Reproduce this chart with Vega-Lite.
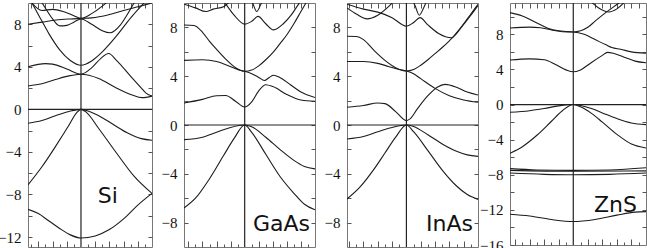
{
"$schema":"https://vega.github.io/schema/vega-lite/v6.json",
"padding":{"left":-3,"top":1,"right":0,"bottom":0},
"config":{"view":{"stroke":"#777","strokeWidth":1},"axis":{"domain":false,"grid":false,"title":null,"tickColor":"#555","tickWidth":1,"labelFont":"Liberation Serif","labelFontSize":15,"labelColor":"#111"}},
"datasets":{
"bands":[
{"p":"si","b":"v1","k":-0.746,"e":-9.4},{"p":"si","b":"v1","k":-0.6,"e":-9.8},{"p":"si","b":"v1","k":-0.45,"e":-10.5},{"p":"si","b":"v1","k":-0.3,"e":-11.2},{"p":"si","b":"v1","k":-0.15,"e":-11.8},{"p":"si","b":"v1","k":0,"e":-12.1},{"p":"si","b":"v1","k":0.2,"e":-11.9},{"p":"si","b":"v1","k":0.4,"e":-11.3},{"p":"si","b":"v1","k":0.6,"e":-10.3},{"p":"si","b":"v1","k":0.8,"e":-9.0},{"p":"si","b":"v1","k":1.0,"e":-7.9},
{"p":"si","b":"v2","k":-0.746,"e":-7.1},{"p":"si","b":"v2","k":-0.55,"e":-5.4},{"p":"si","b":"v2","k":-0.36,"e":-3.5},{"p":"si","b":"v2","k":-0.17,"e":-1.5},{"p":"si","b":"v2","k":-0.06,"e":-0.3},{"p":"si","b":"v2","k":0,"e":0},{"p":"si","b":"v2","k":0.08,"e":-0.3},{"p":"si","b":"v2","k":0.25,"e":-1.8},{"p":"si","b":"v2","k":0.5,"e":-4.1},{"p":"si","b":"v2","k":0.75,"e":-6.3},{"p":"si","b":"v2","k":1.0,"e":-7.9},
{"p":"si","b":"v3","k":-0.746,"e":-1.3},{"p":"si","b":"v3","k":-0.55,"e":-1.05},{"p":"si","b":"v3","k":-0.36,"e":-0.6},{"p":"si","b":"v3","k":-0.17,"e":-0.2},{"p":"si","b":"v3","k":0,"e":0},{"p":"si","b":"v3","k":0.1,"e":-0.15},{"p":"si","b":"v3","k":0.25,"e":-0.6},{"p":"si","b":"v3","k":0.45,"e":-1.4},{"p":"si","b":"v3","k":0.65,"e":-2.2},{"p":"si","b":"v3","k":0.85,"e":-2.75},{"p":"si","b":"v3","k":1.0,"e":-2.9},
{"p":"si","b":"c1","k":-0.746,"e":2.2},{"p":"si","b":"c1","k":-0.55,"e":2.4},{"p":"si","b":"c1","k":-0.36,"e":2.8},{"p":"si","b":"c1","k":-0.17,"e":3.15},{"p":"si","b":"c1","k":0,"e":3.3},{"p":"si","b":"c1","k":0.25,"e":2.9},{"p":"si","b":"c1","k":0.48,"e":2.07},{"p":"si","b":"c1","k":0.72,"e":1.35},{"p":"si","b":"c1","k":0.86,"e":1.1},{"p":"si","b":"c1","k":1.0,"e":1.25},
{"p":"si","b":"c2","k":-0.746,"e":4.0},{"p":"si","b":"c2","k":-0.5,"e":4.3},{"p":"si","b":"c2","k":-0.4,"e":4.25},{"p":"si","b":"c2","k":-0.2,"e":3.8},{"p":"si","b":"c2","k":0,"e":3.3},{"p":"si","b":"c2","k":0.15,"e":3.9},{"p":"si","b":"c2","k":0.28,"e":4.8},{"p":"si","b":"c2","k":0.39,"e":5.25},{"p":"si","b":"c2","k":0.5,"e":4.6},{"p":"si","b":"c2","k":0.7,"e":3.1},{"p":"si","b":"c2","k":0.85,"e":2.0},{"p":"si","b":"c2","k":0.92,"e":1.5},{"p":"si","b":"c2","k":1.0,"e":1.25},
{"p":"si","b":"c3","k":-0.746,"e":10.7},{"p":"si","b":"c3","k":-0.69,"e":10.0},{"p":"si","b":"c3","k":-0.55,"e":8.3},{"p":"si","b":"c3","k":-0.45,"e":7.1},{"p":"si","b":"c3","k":-0.3,"e":5.6},{"p":"si","b":"c3","k":-0.15,"e":4.6},{"p":"si","b":"c3","k":0,"e":4.15},{"p":"si","b":"c3","k":0.15,"e":4.55},{"p":"si","b":"c3","k":0.3,"e":5.4},{"p":"si","b":"c3","k":0.5,"e":6.9},{"p":"si","b":"c3","k":0.7,"e":8.6},{"p":"si","b":"c3","k":0.9,"e":10.1},
{"p":"si","b":"c4","k":-0.746,"e":8.0},{"p":"si","b":"c4","k":-0.55,"e":8.2},{"p":"si","b":"c4","k":-0.35,"e":8.4},{"p":"si","b":"c4","k":-0.15,"e":8.5},{"p":"si","b":"c4","k":0,"e":8.55},{"p":"si","b":"c4","k":0.15,"e":8.6},{"p":"si","b":"c4","k":0.39,"e":8.9},{"p":"si","b":"c4","k":0.6,"e":9.3},{"p":"si","b":"c4","k":0.8,"e":9.65},{"p":"si","b":"c4","k":1.0,"e":10.0},
{"p":"si","b":"c5","k":-0.6,"e":10.6},{"p":"si","b":"c5","k":-0.5,"e":9.5},{"p":"si","b":"c5","k":-0.4,"e":8.5},{"p":"si","b":"c5","k":-0.3,"e":7.85},{"p":"si","b":"c5","k":-0.2,"e":7.9},{"p":"si","b":"c5","k":-0.1,"e":8.2},{"p":"si","b":"c5","k":0,"e":8.5},{"p":"si","b":"c5","k":0.15,"e":8.0},{"p":"si","b":"c5","k":0.3,"e":7.4},{"p":"si","b":"c5","k":0.41,"e":7.2},{"p":"si","b":"c5","k":0.55,"e":7.9},{"p":"si","b":"c5","k":0.65,"e":8.9},{"p":"si","b":"c5","k":0.72,"e":9.7},{"p":"si","b":"c5","k":0.8,"e":10.6},
{"p":"si","b":"c6","k":-0.746,"e":10.5},{"p":"si","b":"c6","k":-0.69,"e":10.0},{"p":"si","b":"c6","k":-0.55,"e":9.3},{"p":"si","b":"c6","k":-0.4,"e":9.4},{"p":"si","b":"c6","k":-0.25,"e":9.2},{"p":"si","b":"c6","k":-0.1,"e":8.8},{"p":"si","b":"c6","k":0,"e":8.55},{"p":"si","b":"c6","k":0.15,"e":9.0},{"p":"si","b":"c6","k":0.3,"e":9.7},{"p":"si","b":"c6","k":0.4,"e":10.3},

{"p":"gaas","b":"v1","k":-0.863,"e":-6.8},{"p":"gaas","b":"v1","k":-0.7,"e":-6.0},{"p":"gaas","b":"v1","k":-0.5,"e":-4.4},{"p":"gaas","b":"v1","k":-0.3,"e":-2.5},{"p":"gaas","b":"v1","k":-0.15,"e":-1.1},{"p":"gaas","b":"v1","k":0,"e":0},{"p":"gaas","b":"v1","k":0.1,"e":-0.6},{"p":"gaas","b":"v1","k":0.3,"e":-2.4},{"p":"gaas","b":"v1","k":0.5,"e":-4.2},{"p":"gaas","b":"v1","k":0.7,"e":-5.6},{"p":"gaas","b":"v1","k":0.85,"e":-6.5},{"p":"gaas","b":"v1","k":1.0,"e":-6.95},
{"p":"gaas","b":"v2","k":-0.863,"e":-1.2},{"p":"gaas","b":"v2","k":-0.6,"e":-1.0},{"p":"gaas","b":"v2","k":-0.4,"e":-0.6},{"p":"gaas","b":"v2","k":-0.2,"e":-0.2},{"p":"gaas","b":"v2","k":0,"e":0},{"p":"gaas","b":"v2","k":0.1,"e":-0.15},{"p":"gaas","b":"v2","k":0.3,"e":-1.0},{"p":"gaas","b":"v2","k":0.5,"e":-2.0},{"p":"gaas","b":"v2","k":0.7,"e":-2.9},{"p":"gaas","b":"v2","k":0.85,"e":-3.4},{"p":"gaas","b":"v2","k":1.0,"e":-3.6},
{"p":"gaas","b":"c1","k":-0.863,"e":1.8},{"p":"gaas","b":"c1","k":-0.6,"e":2.1},{"p":"gaas","b":"c1","k":-0.4,"e":2.4},{"p":"gaas","b":"c1","k":-0.27,"e":2.42},{"p":"gaas","b":"c1","k":-0.13,"e":1.95},{"p":"gaas","b":"c1","k":0,"e":1.47},{"p":"gaas","b":"c1","k":0.1,"e":1.9},{"p":"gaas","b":"c1","k":0.2,"e":2.8},{"p":"gaas","b":"c1","k":0.3,"e":3.3},{"p":"gaas","b":"c1","k":0.4,"e":3.15},{"p":"gaas","b":"c1","k":0.6,"e":2.5},{"p":"gaas","b":"c1","k":0.8,"e":2.05},{"p":"gaas","b":"c1","k":1.0,"e":1.95},
{"p":"gaas","b":"c2","k":-0.863,"e":5.3},{"p":"gaas","b":"c2","k":-0.6,"e":5.35},{"p":"gaas","b":"c2","k":-0.4,"e":5.2},{"p":"gaas","b":"c2","k":-0.25,"e":4.9},{"p":"gaas","b":"c2","k":-0.1,"e":4.55},{"p":"gaas","b":"c2","k":0,"e":4.4},{"p":"gaas","b":"c2","k":0.1,"e":4.2},{"p":"gaas","b":"c2","k":0.2,"e":3.9},{"p":"gaas","b":"c2","k":0.28,"e":3.65},{"p":"gaas","b":"c2","k":0.35,"e":3.9},{"p":"gaas","b":"c2","k":0.41,"e":4.08},{"p":"gaas","b":"c2","k":0.5,"e":3.9},{"p":"gaas","b":"c2","k":0.65,"e":3.3},{"p":"gaas","b":"c2","k":0.8,"e":2.7},{"p":"gaas","b":"c2","k":1.0,"e":2.25},
{"p":"gaas","b":"c3","k":-0.863,"e":8.2},{"p":"gaas","b":"c3","k":-0.72,"e":8.15},{"p":"gaas","b":"c3","k":-0.6,"e":7.6},{"p":"gaas","b":"c3","k":-0.5,"e":6.86},{"p":"gaas","b":"c3","k":-0.4,"e":6.2},{"p":"gaas","b":"c3","k":-0.27,"e":5.4},{"p":"gaas","b":"c3","k":-0.13,"e":4.7},{"p":"gaas","b":"c3","k":0,"e":4.4},{"p":"gaas","b":"c3","k":0.1,"e":4.5},{"p":"gaas","b":"c3","k":0.2,"e":4.85},{"p":"gaas","b":"c3","k":0.3,"e":5.35},{"p":"gaas","b":"c3","k":0.41,"e":6.0},{"p":"gaas","b":"c3","k":0.5,"e":6.65},{"p":"gaas","b":"c3","k":0.6,"e":7.4},{"p":"gaas","b":"c3","k":0.7,"e":8.3},{"p":"gaas","b":"c3","k":0.8,"e":9.3},{"p":"gaas","b":"c3","k":0.9,"e":10.3},
{"p":"gaas","b":"c4","k":-0.35,"e":10.4},{"p":"gaas","b":"c4","k":-0.27,"e":9.9},{"p":"gaas","b":"c4","k":-0.15,"e":9.0},{"p":"gaas","b":"c4","k":0,"e":8.27},{"p":"gaas","b":"c4","k":0.1,"e":8.5},{"p":"gaas","b":"c4","k":0.19,"e":8.9},{"p":"gaas","b":"c4","k":0.3,"e":8.3},{"p":"gaas","b":"c4","k":0.41,"e":7.8},{"p":"gaas","b":"c4","k":0.55,"e":8.3},{"p":"gaas","b":"c4","k":0.66,"e":9.0},{"p":"gaas","b":"c4","k":0.76,"e":9.85},{"p":"gaas","b":"c4","k":0.85,"e":10.6},
{"p":"gaas","b":"c5","k":-0.863,"e":9.9},{"p":"gaas","b":"c5","k":-0.7,"e":9.6},{"p":"gaas","b":"c5","k":-0.55,"e":9.3},{"p":"gaas","b":"c5","k":-0.45,"e":9.5},{"p":"gaas","b":"c5","k":-0.3,"e":9.7},{"p":"gaas","b":"c5","k":-0.2,"e":10.2},
{"p":"gaas","b":"c6","k":0.05,"e":10.8},{"p":"gaas","b":"c6","k":0.12,"e":9.9},{"p":"gaas","b":"c6","k":0.17,"e":9.3},{"p":"gaas","b":"c6","k":0.23,"e":9.9},{"p":"gaas","b":"c6","k":0.3,"e":10.8},

{"p":"inas","b":"v1","k":-0.83,"e":-6.07},{"p":"inas","b":"v1","k":-0.65,"e":-5.1},{"p":"inas","b":"v1","k":-0.45,"e":-3.6},{"p":"inas","b":"v1","k":-0.3,"e":-2.3},{"p":"inas","b":"v1","k":-0.15,"e":-1.0},{"p":"inas","b":"v1","k":0,"e":0},{"p":"inas","b":"v1","k":0.1,"e":-0.55},{"p":"inas","b":"v1","k":0.3,"e":-2.1},{"p":"inas","b":"v1","k":0.5,"e":-3.7},{"p":"inas","b":"v1","k":0.7,"e":-5.0},{"p":"inas","b":"v1","k":0.85,"e":-5.7},{"p":"inas","b":"v1","k":1.0,"e":-6.1},
{"p":"inas","b":"v2","k":-0.83,"e":-1.15},{"p":"inas","b":"v2","k":-0.6,"e":-0.95},{"p":"inas","b":"v2","k":-0.4,"e":-0.55},{"p":"inas","b":"v2","k":-0.2,"e":-0.2},{"p":"inas","b":"v2","k":0,"e":0},{"p":"inas","b":"v2","k":0.1,"e":-0.12},{"p":"inas","b":"v2","k":0.3,"e":-0.8},{"p":"inas","b":"v2","k":0.5,"e":-1.55},{"p":"inas","b":"v2","k":0.7,"e":-2.15},{"p":"inas","b":"v2","k":0.85,"e":-2.45},{"p":"inas","b":"v2","k":1.0,"e":-2.57},
{"p":"inas","b":"c1","k":-0.83,"e":1.45},{"p":"inas","b":"c1","k":-0.6,"e":1.6},{"p":"inas","b":"c1","k":-0.4,"e":1.8},{"p":"inas","b":"c1","k":-0.3,"e":1.75},{"p":"inas","b":"c1","k":-0.15,"e":1.1},{"p":"inas","b":"c1","k":0,"e":0.36},{"p":"inas","b":"c1","k":0.05,"e":0.5},{"p":"inas","b":"c1","k":0.15,"e":1.3},{"p":"inas","b":"c1","k":0.3,"e":2.4},{"p":"inas","b":"c1","k":0.43,"e":3.1},{"p":"inas","b":"c1","k":0.54,"e":3.33},{"p":"inas","b":"c1","k":0.7,"e":3.1},{"p":"inas","b":"c1","k":0.85,"e":2.7},{"p":"inas","b":"c1","k":1.0,"e":2.46},
{"p":"inas","b":"c2","k":-0.83,"e":5.2},{"p":"inas","b":"c2","k":-0.6,"e":5.2},{"p":"inas","b":"c2","k":-0.4,"e":5.05},{"p":"inas","b":"c2","k":-0.25,"e":4.8},{"p":"inas","b":"c2","k":-0.1,"e":4.55},{"p":"inas","b":"c2","k":0,"e":4.43},{"p":"inas","b":"c2","k":0.1,"e":4.2},{"p":"inas","b":"c2","k":0.2,"e":3.8},{"p":"inas","b":"c2","k":0.4,"e":3.0},{"p":"inas","b":"c2","k":0.6,"e":2.4},{"p":"inas","b":"c2","k":0.8,"e":2.05},{"p":"inas","b":"c2","k":1.0,"e":1.86},
{"p":"inas","b":"c3","k":-0.83,"e":7.27},{"p":"inas","b":"c3","k":-0.7,"e":7.25},{"p":"inas","b":"c3","k":-0.6,"e":7.0},{"p":"inas","b":"c3","k":-0.45,"e":6.1},{"p":"inas","b":"c3","k":-0.3,"e":5.3},{"p":"inas","b":"c3","k":-0.15,"e":4.7},{"p":"inas","b":"c3","k":0,"e":4.43},{"p":"inas","b":"c3","k":0.1,"e":4.55},{"p":"inas","b":"c3","k":0.2,"e":4.9},{"p":"inas","b":"c3","k":0.3,"e":5.35},{"p":"inas","b":"c3","k":0.4,"e":5.85},{"p":"inas","b":"c3","k":0.5,"e":6.35},{"p":"inas","b":"c3","k":0.6,"e":6.9},{"p":"inas","b":"c3","k":0.65,"e":7.2},{"p":"inas","b":"c3","k":0.7,"e":7.55},{"p":"inas","b":"c3","k":0.8,"e":8.3},{"p":"inas","b":"c3","k":0.9,"e":9.1},{"p":"inas","b":"c3","k":1.0,"e":9.9},
{"p":"inas","b":"c4","k":-0.83,"e":9.9},{"p":"inas","b":"c4","k":-0.6,"e":9.5},{"p":"inas","b":"c4","k":-0.4,"e":9.25},{"p":"inas","b":"c4","k":-0.2,"e":8.8},{"p":"inas","b":"c4","k":0,"e":8.1},{"p":"inas","b":"c4","k":0.1,"e":8.4},{"p":"inas","b":"c4","k":0.19,"e":8.8},{"p":"inas","b":"c4","k":0.3,"e":8.2},{"p":"inas","b":"c4","k":0.45,"e":7.5},{"p":"inas","b":"c4","k":0.63,"e":7.15},{"p":"inas","b":"c4","k":0.7,"e":7.5},{"p":"inas","b":"c4","k":0.8,"e":8.25},{"p":"inas","b":"c4","k":0.9,"e":9.0},{"p":"inas","b":"c4","k":1.0,"e":9.8},
{"p":"inas","b":"c5","k":-0.83,"e":9.6},{"p":"inas","b":"c5","k":-0.7,"e":9.1},{"p":"inas","b":"c5","k":-0.55,"e":8.7},{"p":"inas","b":"c5","k":-0.4,"e":9.0},{"p":"inas","b":"c5","k":-0.25,"e":9.7},{"p":"inas","b":"c5","k":-0.15,"e":10.3},
{"p":"inas","b":"c6","k":0.05,"e":10.6},{"p":"inas","b":"c6","k":0.12,"e":9.8},{"p":"inas","b":"c6","k":0.18,"e":9.0},{"p":"inas","b":"c6","k":0.24,"e":9.6},{"p":"inas","b":"c6","k":0.3,"e":10.4},

{"p":"zns","b":"s","k":-0.87,"e":-12.5},{"p":"zns","b":"s","k":-0.6,"e":-12.7},{"p":"zns","b":"s","k":-0.3,"e":-13.1},{"p":"zns","b":"s","k":0,"e":-13.33},{"p":"zns","b":"s","k":0.3,"e":-13.1},{"p":"zns","b":"s","k":0.6,"e":-12.6},{"p":"zns","b":"s","k":0.85,"e":-12.25},{"p":"zns","b":"s","k":1.0,"e":-12.2},
{"p":"zns","b":"d1","k":-0.87,"e":-7.3},{"p":"zns","b":"d1","k":-0.5,"e":-7.45},{"p":"zns","b":"d1","k":0,"e":-7.5},{"p":"zns","b":"d1","k":0.5,"e":-7.45},{"p":"zns","b":"d1","k":1.0,"e":-7.2},
{"p":"zns","b":"d2","k":-0.87,"e":-7.5},{"p":"zns","b":"d2","k":0,"e":-7.6},{"p":"zns","b":"d2","k":1.0,"e":-7.55},
{"p":"zns","b":"d3","k":-0.87,"e":-7.8},{"p":"zns","b":"d3","k":-0.4,"e":-7.95},{"p":"zns","b":"d3","k":0,"e":-8.0},{"p":"zns","b":"d3","k":0.5,"e":-7.95},{"p":"zns","b":"d3","k":1.0,"e":-7.8},
{"p":"zns","b":"v2","k":-0.87,"e":-5.55},{"p":"zns","b":"v2","k":-0.7,"e":-4.8},{"p":"zns","b":"v2","k":-0.5,"e":-3.5},{"p":"zns","b":"v2","k":-0.3,"e":-1.9},{"p":"zns","b":"v2","k":-0.15,"e":-0.7},{"p":"zns","b":"v2","k":0,"e":0},{"p":"zns","b":"v2","k":0.1,"e":-0.25},{"p":"zns","b":"v2","k":0.25,"e":-1.0},{"p":"zns","b":"v2","k":0.4,"e":-2.0},{"p":"zns","b":"v2","k":0.6,"e":-3.4},{"p":"zns","b":"v2","k":0.8,"e":-4.5},{"p":"zns","b":"v2","k":1.0,"e":-4.95},
{"p":"zns","b":"v3","k":-0.87,"e":-0.88},{"p":"zns","b":"v3","k":-0.6,"e":-0.7},{"p":"zns","b":"v3","k":-0.4,"e":-0.45},{"p":"zns","b":"v3","k":-0.2,"e":-0.15},{"p":"zns","b":"v3","k":0,"e":0},{"p":"zns","b":"v3","k":0.1,"e":-0.1},{"p":"zns","b":"v3","k":0.25,"e":-0.45},{"p":"zns","b":"v3","k":0.4,"e":-0.95},{"p":"zns","b":"v3","k":0.6,"e":-1.6},{"p":"zns","b":"v3","k":0.8,"e":-2.1},{"p":"zns","b":"v3","k":1.0,"e":-2.29},
{"p":"zns","b":"c1","k":-0.87,"e":5.07},{"p":"zns","b":"c1","k":-0.6,"e":5.2},{"p":"zns","b":"c1","k":-0.4,"e":5.1},{"p":"zns","b":"c1","k":-0.25,"e":4.6},{"p":"zns","b":"c1","k":-0.1,"e":3.95},{"p":"zns","b":"c1","k":0,"e":3.73},{"p":"zns","b":"c1","k":0.1,"e":3.95},{"p":"zns","b":"c1","k":0.25,"e":4.8},{"p":"zns","b":"c1","k":0.4,"e":5.6},{"p":"zns","b":"c1","k":0.47,"e":5.95},{"p":"zns","b":"c1","k":0.55,"e":5.85},{"p":"zns","b":"c1","k":0.7,"e":5.4},{"p":"zns","b":"c1","k":0.85,"e":4.95},{"p":"zns","b":"c1","k":1.0,"e":4.76},
{"p":"zns","b":"c2","k":-0.87,"e":8.72},{"p":"zns","b":"c2","k":-0.6,"e":8.82},{"p":"zns","b":"c2","k":-0.45,"e":8.75},{"p":"zns","b":"c2","k":-0.3,"e":8.5},{"p":"zns","b":"c2","k":-0.15,"e":8.3},{"p":"zns","b":"c2","k":0,"e":8.27},{"p":"zns","b":"c2","k":0.15,"e":8.0},{"p":"zns","b":"c2","k":0.3,"e":7.4},{"p":"zns","b":"c2","k":0.45,"e":6.8},{"p":"zns","b":"c2","k":0.53,"e":6.5},{"p":"zns","b":"c2","k":0.65,"e":6.3},{"p":"zns","b":"c2","k":0.8,"e":6.0},{"p":"zns","b":"c2","k":1.0,"e":5.85},
{"p":"zns","b":"c3","k":-0.87,"e":10.48},{"p":"zns","b":"c3","k":-0.7,"e":10.1},{"p":"zns","b":"c3","k":-0.5,"e":9.3},{"p":"zns","b":"c3","k":-0.35,"e":8.7},{"p":"zns","b":"c3","k":-0.2,"e":8.4},{"p":"zns","b":"c3","k":0,"e":8.27},{"p":"zns","b":"c3","k":0.1,"e":8.4},{"p":"zns","b":"c3","k":0.2,"e":8.8},{"p":"zns","b":"c3","k":0.3,"e":9.5},{"p":"zns","b":"c3","k":0.45,"e":10.5},{"p":"zns","b":"c3","k":0.6,"e":11.4},{"p":"zns","b":"c3","k":0.75,"e":12.3},
{"p":"zns","b":"c4","k":0.15,"e":12.5},{"p":"zns","b":"c4","k":0.21,"e":12.0},{"p":"zns","b":"c4","k":0.35,"e":11.0},{"p":"zns","b":"c4","k":0.49,"e":10.55},{"p":"zns","b":"c4","k":0.6,"e":10.9},{"p":"zns","b":"c4","k":0.72,"e":11.8},{"p":"zns","b":"c4","k":0.8,"e":12.5}
],
"labels":[
{"p":"si","label":"Si","k":0.52,"e":-8.8},
{"p":"gaas","label":"GaAs","k":0.93,"e":-8.7},
{"p":"inas","label":"InAs","k":0.93,"e":-8.7},
{"p":"zns","label":"ZnS","k":0.875,"e":-12.2}
]
},
"bounds":"flush",
"spacing":32,
"hconcat":[
   {"width":124,"height":244,
    "resolve":{"axis":{"x":"independent","y":"independent"}},
    "layer":[
     {"data":{"name":"bands"},"transform":[{"filter":"datum.p=='si'"}],
      "mark":{"type":"line","interpolate":"monotone","clip":true,"color":"#1c1c1c","strokeWidth":1.1},
      "encoding":{
       "x":{"field":"k","type":"quantitative","scale":{"domain":[-0.746,1],"nice":false,"zero":false},
            "axis":{"orient":"bottom","values":[-0.7,-0.6,-0.5,-0.4,-0.3,-0.2,-0.1,0.1,0.2,0.3,0.4,0.5,0.6,0.7,0.8,0.9],"labels":false,"tickSize":{"condition":{"test":"round(abs(datum.value)*10) % 2 == 0","value":-6},"value":-3}}},
       "y":{"field":"e","type":"quantitative","scale":{"domain":[-12.94,10],"nice":false,"zero":false},
            "axis":{"orient":"left","values":[-12,-10,-8,-6,-4,-2,0,2,4,6,8],"labelExpr":"datum.value % 4 == 0 ? datum.label : ''","tickSize":-4,"labelPadding":11}},
       "detail":{"field":"b"}}},
     {"data":{"values":[{}]},"mark":{"type":"rule","color":"#222","strokeWidth":1.2},
      "encoding":{"y":{"datum":0,"type":"quantitative","axis":{"orient":"right","values":[-12,-10,-8,-6,-4,-2,0,2,4,6,8],"labels":false,"tickSize":-4}}}},
     {"data":{"values":[{}]},"mark":{"type":"rule","color":"#222","strokeWidth":1.2},
      "encoding":{"x":{"datum":0,"type":"quantitative","axis":{"orient":"top","values":[-0.7,-0.6,-0.5,-0.4,-0.3,-0.2,-0.1,0.1,0.2,0.3,0.4,0.5,0.6,0.7,0.8,0.9],"labels":false,"tickSize":-5}}}},
     {"data":{"name":"labels"},"transform":[{"filter":"datum.p=='si'"}],
      "mark":{"type":"text","align":"right","baseline":"alphabetic","font":"DejaVu Sans","fontSize":22,"color":"#111"},
      "encoding":{"x":{"field":"k","type":"quantitative","axis":null},"y":{"field":"e","type":"quantitative","axis":null},"text":{"field":"label"}}}
    ]},
   {"width":131,"height":244,
    "resolve":{"axis":{"x":"independent","y":"independent"}},
    "layer":[
     {"data":{"name":"bands"},"transform":[{"filter":"datum.p=='gaas'"}],
      "mark":{"type":"line","interpolate":"monotone","clip":true,"color":"#1c1c1c","strokeWidth":1.1},
      "encoding":{
       "x":{"field":"k","type":"quantitative","scale":{"domain":[-0.863,1],"nice":false,"zero":false},
            "axis":{"orient":"bottom","values":[-0.8,-0.7,-0.6,-0.5,-0.4,-0.3,-0.2,-0.1,0.1,0.2,0.3,0.4,0.5,0.6,0.7,0.8,0.9],"labels":false,"tickSize":{"condition":{"test":"round(abs(datum.value)*10) % 2 == 0","value":-6},"value":-3}}},
       "y":{"field":"e","type":"quantitative","scale":{"domain":[-10,10],"nice":false,"zero":false},
            "axis":{"orient":"left","values":[-8,-6,-4,-2,0,2,4,6,8],"labelExpr":"datum.value % 4 == 0 ? datum.label : ''","tickSize":-4,"labelPadding":11}},
       "detail":{"field":"b"}}},
     {"data":{"values":[{}]},"mark":{"type":"rule","color":"#222","strokeWidth":1.2},
      "encoding":{"y":{"datum":0,"type":"quantitative","axis":{"orient":"right","values":[-8,-6,-4,-2,0,2,4,6,8],"labels":false,"tickSize":-4}}}},
     {"data":{"values":[{}]},"mark":{"type":"rule","color":"#222","strokeWidth":1.2},
      "encoding":{"x":{"datum":0,"type":"quantitative","axis":{"orient":"top","values":[-0.8,-0.7,-0.6,-0.5,-0.4,-0.3,-0.2,-0.1,0.1,0.2,0.3,0.4,0.5,0.6,0.7,0.8,0.9],"labels":false,"tickSize":-5}}}},
     {"data":{"name":"labels"},"transform":[{"filter":"datum.p=='gaas'"}],
      "mark":{"type":"text","align":"right","baseline":"alphabetic","font":"DejaVu Sans","fontSize":22,"color":"#111"},
      "encoding":{"x":{"field":"k","type":"quantitative","axis":null},"y":{"field":"e","type":"quantitative","axis":null},"text":{"field":"label"}}}
    ]},
   {"width":131,"height":244,
    "resolve":{"axis":{"x":"independent","y":"independent"}},
    "layer":[
     {"data":{"name":"bands"},"transform":[{"filter":"datum.p=='inas'"}],
      "mark":{"type":"line","interpolate":"monotone","clip":true,"color":"#1c1c1c","strokeWidth":1.1},
      "encoding":{
       "x":{"field":"k","type":"quantitative","scale":{"domain":[-0.83,1],"nice":false,"zero":false},
            "axis":{"orient":"bottom","values":[-0.8,-0.7,-0.6,-0.5,-0.4,-0.3,-0.2,-0.1,0.1,0.2,0.3,0.4,0.5,0.6,0.7,0.8,0.9],"labels":false,"tickSize":{"condition":{"test":"round(abs(datum.value)*10) % 2 == 0","value":-6},"value":-3}}},
       "y":{"field":"e","type":"quantitative","scale":{"domain":[-10,10],"nice":false,"zero":false},
            "axis":{"orient":"left","values":[-8,-6,-4,-2,0,2,4,6,8],"labelExpr":"datum.value % 4 == 0 ? datum.label : ''","tickSize":-4,"labelPadding":11}},
       "detail":{"field":"b"}}},
     {"data":{"values":[{}]},"mark":{"type":"rule","color":"#222","strokeWidth":1.2},
      "encoding":{"y":{"datum":0,"type":"quantitative","axis":{"orient":"right","values":[-8,-6,-4,-2,0,2,4,6,8],"labels":false,"tickSize":-4}}}},
     {"data":{"values":[{}]},"mark":{"type":"rule","color":"#222","strokeWidth":1.2},
      "encoding":{"x":{"datum":0,"type":"quantitative","axis":{"orient":"top","values":[-0.8,-0.7,-0.6,-0.5,-0.4,-0.3,-0.2,-0.1,0.1,0.2,0.3,0.4,0.5,0.6,0.7,0.8,0.9],"labels":false,"tickSize":-5}}}},
     {"data":{"name":"labels"},"transform":[{"filter":"datum.p=='inas'"}],
      "mark":{"type":"text","align":"right","baseline":"alphabetic","font":"DejaVu Sans","fontSize":22,"color":"#111"},
      "encoding":{"x":{"field":"k","type":"quantitative","axis":null},"y":{"field":"e","type":"quantitative","axis":null},"text":{"field":"label"}}}
    ]},
   {"width":136,"height":242,
    "resolve":{"axis":{"x":"independent","y":"independent"}},
    "layer":[
     {"data":{"name":"bands"},"transform":[{"filter":"datum.p=='zns'"}],
      "mark":{"type":"line","interpolate":"monotone","clip":true,"color":"#1c1c1c","strokeWidth":1.1},
      "encoding":{
       "x":{"field":"k","type":"quantitative","scale":{"domain":[-0.87,1],"nice":false,"zero":false},
            "axis":{"orient":"bottom","values":[-0.8,-0.7,-0.6,-0.5,-0.4,-0.3,-0.2,-0.1,0.1,0.2,0.3,0.4,0.5,0.6,0.7,0.8,0.9],"labels":false,"tickSize":{"condition":{"test":"round(abs(datum.value)*10) % 2 == 0","value":-6},"value":-3}}},
       "y":{"field":"e","type":"quantitative","scale":{"domain":[-16,11.57],"nice":false,"zero":false},
            "axis":{"orient":"left","values":[-16,-14,-12,-10,-8,-6,-4,-2,0,2,4,6,8,10],"labelExpr":"datum.value % 4 == 0 ? datum.label : ''","tickSize":-4,"labelPadding":11}},
       "detail":{"field":"b"}}},
     {"data":{"values":[{}]},"mark":{"type":"rule","color":"#222","strokeWidth":1.2},
      "encoding":{"y":{"datum":0,"type":"quantitative","axis":{"orient":"right","values":[-14,-12,-10,-8,-6,-4,-2,0,2,4,6,8,10],"labels":false,"tickSize":-4}}}},
     {"data":{"values":[{}]},"mark":{"type":"rule","color":"#222","strokeWidth":1.2},
      "encoding":{"x":{"datum":0,"type":"quantitative","axis":{"orient":"top","values":[-0.8,-0.7,-0.6,-0.5,-0.4,-0.3,-0.2,-0.1,0.1,0.2,0.3,0.4,0.5,0.6,0.7,0.8,0.9],"labels":false,"tickSize":-5}}}},
     {"data":{"name":"labels"},"transform":[{"filter":"datum.p=='zns'"}],
      "mark":{"type":"text","align":"right","baseline":"alphabetic","font":"DejaVu Sans","fontSize":22,"color":"#111"},
      "encoding":{"x":{"field":"k","type":"quantitative","axis":null},"y":{"field":"e","type":"quantitative","axis":null},"text":{"field":"label"}}}
    ]}
]
}
